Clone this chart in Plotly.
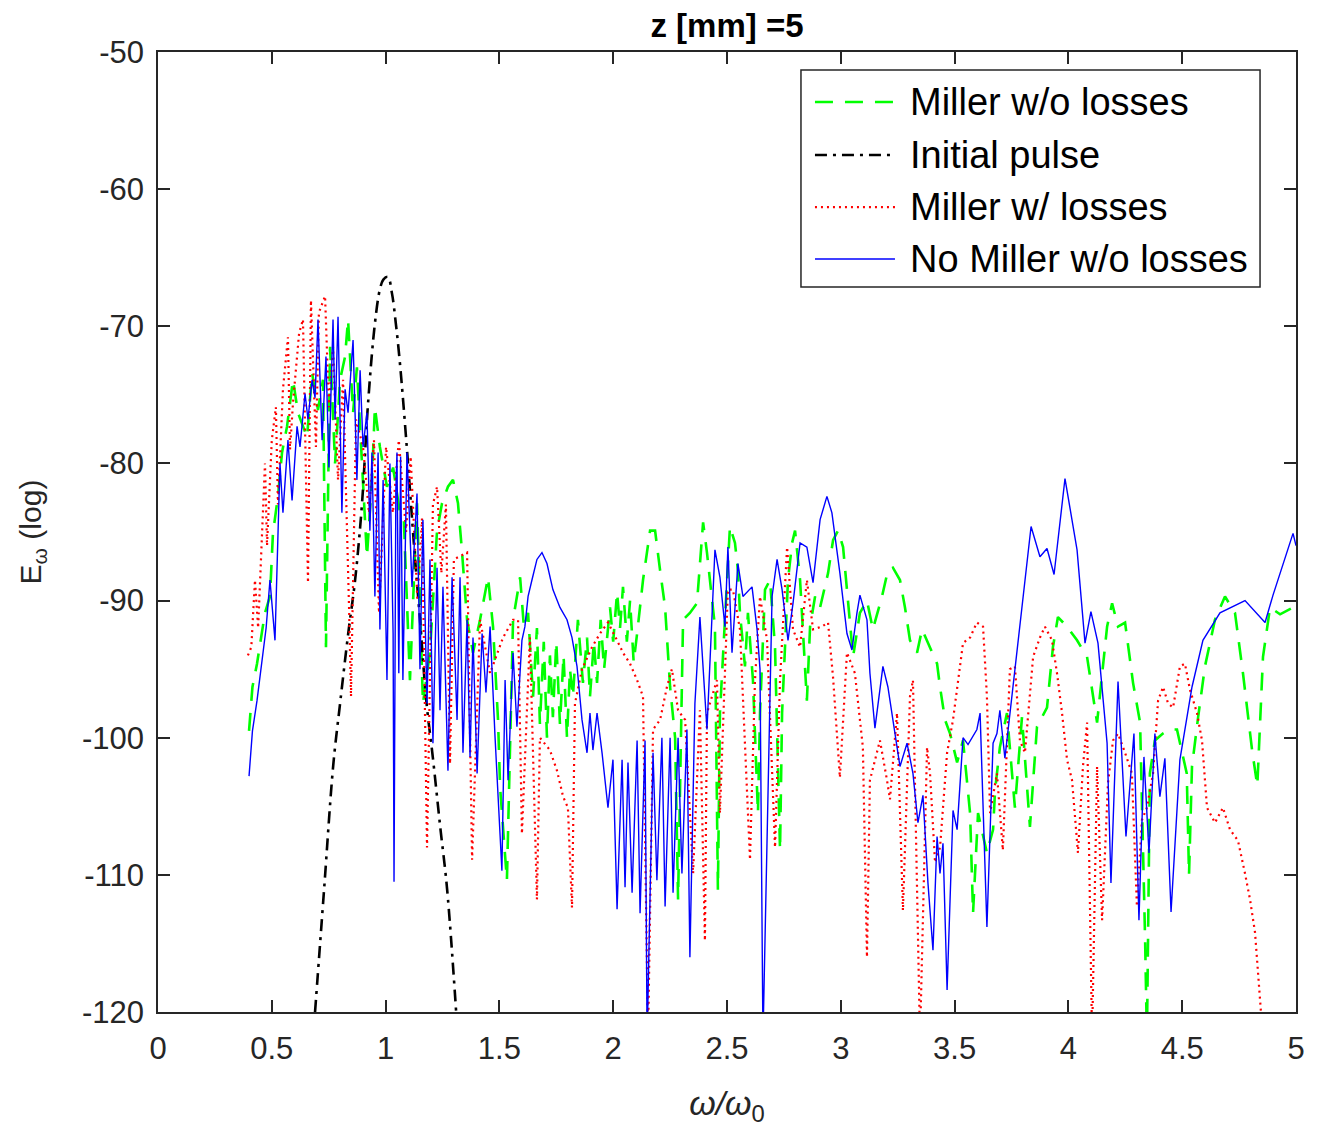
import plotly.graph_objects as go

# ---- Data ----
green_x = [0.400, 0.415, 0.435, 0.470, 0.492, 0.505, 0.527, 0.545, 0.567, 0.593, 0.615, 0.655, 0.677, 0.703,
           0.725, 0.738, 0.756, 0.778, 0.800, 0.822, 0.835, 0.857, 0.874, 0.896, 0.918, 0.940, 0.953, 0.975,
           1.006, 1.033, 1.063, 1.080, 1.107, 1.138, 1.164, 1.195, 1.226, 1.248, 1.274, 1.296, 1.318, 1.336,
           1.358, 1.384, 1.415, 1.450, 1.472, 1.494, 1.503, 1.533, 1.547, 1.560, 1.591, 1.608, 1.626, 1.648,
           1.665, 1.678, 1.695, 1.709, 1.722, 1.735, 1.750, 1.766, 1.782, 1.797, 1.810, 1.823, 1.845, 1.867,
           1.885, 1.898, 1.915, 1.929, 1.945, 1.960, 1.986, 2.000, 2.017, 2.030, 2.043, 2.060, 2.074, 2.090,
           2.105, 2.131, 2.162, 2.184, 2.206, 2.228, 2.250, 2.272, 2.285, 2.307, 2.337, 2.368, 2.395, 2.412,
           2.447, 2.460, 2.469, 2.513, 2.535, 2.548, 2.557, 2.579, 2.592, 2.614, 2.636, 2.645, 2.667, 2.689,
           2.711, 2.733, 2.742, 2.768, 2.786, 2.799, 2.821, 2.851, 2.865, 2.887, 2.909, 2.944, 2.966, 2.988,
           3.010, 3.027, 3.054, 3.084, 3.115, 3.141, 3.181, 3.207, 3.229, 3.260, 3.282, 3.304, 3.335, 3.357,
           3.392, 3.423, 3.436, 3.458, 3.480, 3.511, 3.537, 3.568, 3.581, 3.603, 3.642, 3.669, 3.678, 3.699,
           3.730, 3.765, 3.796, 3.831, 3.862, 3.906, 3.932, 3.954, 3.994, 4.038, 4.082, 4.126, 4.170, 4.192,
           4.218, 4.249, 4.284, 4.315, 4.337, 4.345, 4.358, 4.380, 4.415, 4.446, 4.477, 4.520, 4.530, 4.543,
           4.570, 4.600, 4.644, 4.688, 4.732, 4.767, 4.807, 4.830, 4.855, 4.886, 4.930, 4.987, 5.000]
green_y = [-99.5, -96.3, -94.6, -90.9, -89.7, -85.1, -82.4, -79.2, -77.3, -73.9, -76.3, -78.1, -73.4, -76.1,
           -73.9, -93.4, -71.5, -80.0, -73.9, -72.2, -69.5, -76.3, -73.0, -80.0, -86.8, -81.2, -75.9, -78.8,
           -81.7, -80.3, -83.6, -84.1, -95.8, -82.9, -97.5, -93.8, -84.9, -82.9, -81.7, -81.2, -82.9, -86.5,
           -91.4, -93.8, -91.4, -88.3, -91.9, -98.7, -103.6, -110.4, -101.1, -91.4, -88.3, -92.0, -90.9, -97.0,
           -92.0, -99.0, -93.0, -100.0, -94.0, -98.5, -93.0, -99.0, -94.0, -100.0, -95.0, -97.0, -91.4, -96.0,
           -92.7, -97.0, -93.0, -96.0, -91.4, -95.0, -90.5, -93.0, -89.4, -92.0, -89.0, -93.0, -90.0, -94.5,
           -92.4, -88.5, -84.9, -84.9, -87.8, -90.5, -96.3, -100.0, -111.8, -91.4, -90.9, -90.2, -84.3, -86.5,
           -91.9, -111.1, -98.2, -84.6, -85.8, -87.8, -90.9, -94.8, -90.9, -95.8, -105.5, -98.2, -89.2, -88.5,
           -93.4, -108.2, -98.2, -88.5, -85.8, -84.9, -88.5, -97.3, -91.9, -89.7, -90.5, -88.0, -85.6, -84.9,
           -86.1, -89.0, -94.1, -90.9, -90.0, -92.1, -89.7, -87.8, -87.6, -88.5, -90.5, -92.9, -93.8, -92.1,
           -93.4, -94.6, -96.3, -98.7, -99.7, -101.8, -100.2, -105.5, -112.8, -105.5, -108.4, -106.7, -103.8, -100.7,
           -98.2, -105.1, -98.5, -106.5, -99.2, -97.8, -93.4, -91.2, -91.9, -92.9, -94.1, -98.9, -91.9, -90.2,
           -91.9, -91.6, -96.0, -98.9, -114.7, -122.0, -102.6, -100.2, -99.7, -99.4, -99.4, -102.6, -110.0, -102.1,
           -98.5, -94.8, -91.4, -89.7, -90.9, -95.3, -100.9, -103.5, -94.1, -90.5, -91.0, -90.5, -90.2]

pulse_x = [0.690, 0.730, 0.770, 0.800, 0.835, 0.866, 0.896, 0.923, 0.953, 0.975, 0.990, 1.010, 1.028,
           1.045, 1.063, 1.094, 1.125, 1.151, 1.180, 1.208, 1.240, 1.270, 1.310]
pulse_y = [-120.0, -111.0, -102.0, -97.5, -92.5, -88.5, -83.0, -75.6, -69.8, -67.3, -66.6, -66.4, -67.6,
           -69.8, -72.7, -79.0, -86.0, -91.4, -97.5, -101.5, -106.5, -111.0, -120.0]

red_x = [0.395, 0.410, 0.426, 0.440, 0.470, 0.479, 0.500, 0.518, 0.527, 0.549, 0.571, 0.580, 0.593, 0.620,
         0.637, 0.659, 0.672, 0.694, 0.707, 0.734, 0.751, 0.769, 0.791, 0.813, 0.840, 0.848, 0.870, 0.901,
         0.927, 0.949, 0.971, 1.002, 1.032, 1.058, 1.090, 1.110, 1.140, 1.160, 1.182, 1.208, 1.226, 1.245,
         1.265, 1.283, 1.300, 1.358, 1.380, 1.415, 1.459, 1.516, 1.560, 1.582, 1.599, 1.634, 1.665, 1.678,
         1.722, 1.753, 1.780, 1.801, 1.819, 1.832, 1.863, 1.907, 1.942, 1.977, 2.017, 2.043, 2.074, 2.105,
         2.131, 2.153, 2.175, 2.206, 2.236, 2.258, 2.285, 2.316, 2.351, 2.381, 2.403, 2.412, 2.456, 2.469,
         2.504, 2.526, 2.557, 2.601, 2.623, 2.645, 2.676, 2.711, 2.733, 2.764, 2.790, 2.821, 2.851, 2.878,
         2.917, 2.944, 2.966, 2.996, 3.027, 3.062, 3.097, 3.115, 3.128, 3.172, 3.203, 3.216, 3.247, 3.273,
         3.304, 3.317, 3.348, 3.379, 3.392, 3.414, 3.436, 3.467, 3.493, 3.537, 3.568, 3.598, 3.625, 3.642,
         3.656, 3.686, 3.712, 3.743, 3.765, 3.787, 3.809, 3.831, 3.845, 3.875, 3.897, 3.928, 3.950, 3.972,
         3.994, 4.016, 4.042, 4.064, 4.082, 4.104, 4.126, 4.148, 4.174, 4.196, 4.218, 4.249, 4.279, 4.301,
         4.323, 4.345, 4.372, 4.394, 4.416, 4.438, 4.460, 4.490, 4.512, 4.534, 4.565, 4.587, 4.609, 4.644,
         4.679, 4.710, 4.745, 4.776, 4.798, 4.820, 4.840, 4.855]
red_y = [-94.0, -93.4, -88.5, -92.0, -80.0, -86.0, -78.3, -75.9, -83.0, -74.6, -70.8, -79.0, -75.6, -70.5,
         -69.5, -88.7, -68.1, -78.8, -69.0, -67.8, -75.9, -71.5, -81.2, -73.9, -90.9, -97.0, -76.8, -78.8,
         -83.6, -78.3, -90.9, -78.8, -83.6, -78.3, -85.0, -79.5, -90.0, -84.0, -108.0, -83.0, -81.7, -88.0,
         -83.0, -101.9, -87.0, -86.5, -108.9, -91.4, -95.3, -92.7, -91.4, -91.4, -107.0, -92.7, -111.8, -100.0,
         -100.9, -102.4, -104.3, -105.1, -112.4, -97.5, -95.0, -93.4, -92.4, -91.6, -92.9, -93.8, -94.6, -95.8,
         -97.0, -122.0, -99.4, -98.7, -96.3, -95.0, -98.0, -98.7, -109.9, -98.0, -114.8, -98.2, -95.8, -105.5,
         -89.2, -89.2, -92.1, -108.9, -95.8, -89.7, -92.9, -108.0, -95.8, -86.1, -92.1, -93.4, -88.5, -92.1,
         -91.9, -91.6, -95.6, -102.9, -93.8, -95.3, -100.7, -116.0, -103.1, -100.2, -103.1, -104.5, -98.2, -112.6,
         -97.0, -95.8, -122.0, -100.7, -102.6, -109.1, -108.0, -101.1, -98.7, -93.1, -92.7, -91.6, -91.9, -97.0,
         -105.5, -102.6, -108.2, -95.0, -94.8, -100.2, -101.1, -96.7, -94.1, -92.7, -91.9, -92.9, -95.3, -98.2,
         -101.6, -103.1, -108.4, -102.1, -98.9, -122.0, -102.1, -113.3, -103.3, -100.2, -99.7, -101.1, -102.6, -112.3,
         -106.0, -105.1, -102.6, -97.3, -96.3, -97.5, -97.8, -94.8, -94.6, -96.5, -98.2, -100.2, -105.1, -106.2,
         -105.1, -106.7, -107.5, -109.9, -111.8, -114.2, -119.0, -122.0]

blue_x = [0.400, 0.415, 0.435, 0.457, 0.475, 0.492, 0.514, 0.536, 0.549, 0.571, 0.589, 0.611, 0.624, 0.646,
          0.659, 0.677, 0.690, 0.703, 0.721, 0.738, 0.751, 0.769, 0.778, 0.791, 0.808, 0.822, 0.835, 0.857,
          0.874, 0.888, 0.901, 0.918, 0.931, 0.940, 0.953, 0.967, 0.975, 0.989, 1.006, 1.019, 1.033, 1.037,
          1.045, 1.050, 1.058, 1.066, 1.076, 1.094, 1.116, 1.138, 1.151, 1.164, 1.182, 1.195, 1.208, 1.226,
          1.239, 1.252, 1.274, 1.292, 1.314, 1.327, 1.340, 1.358, 1.371, 1.384, 1.402, 1.424, 1.441, 1.459,
          1.481, 1.511, 1.525, 1.538, 1.560, 1.577, 1.599, 1.612, 1.626, 1.643, 1.665, 1.687, 1.709, 1.735,
          1.766, 1.797, 1.819, 1.841, 1.863, 1.885, 1.898, 1.911, 1.929, 1.951, 1.977, 1.999, 2.017, 2.039,
          2.052, 2.065, 2.083, 2.105, 2.118, 2.140, 2.149, 2.175, 2.192, 2.214, 2.228, 2.250, 2.263, 2.285,
          2.302, 2.324, 2.337, 2.359, 2.381, 2.412, 2.434, 2.447, 2.469, 2.491, 2.504, 2.522, 2.548, 2.570,
          2.610, 2.632, 2.645, 2.658, 2.698, 2.720, 2.742, 2.768, 2.790, 2.821, 2.851, 2.878, 2.909, 2.939,
          2.961, 2.996, 3.027, 3.049, 3.071, 3.084, 3.115, 3.128, 3.150, 3.185, 3.207, 3.229, 3.260, 3.291,
          3.317, 3.339, 3.361, 3.383, 3.405, 3.423, 3.436, 3.449, 3.467, 3.493, 3.511, 3.537, 3.559, 3.598,
          3.612, 3.642, 3.669, 3.686, 3.699, 3.721, 3.757, 3.800, 3.836, 3.875, 3.906, 3.937, 3.985, 4.038,
          4.073, 4.099, 4.130, 4.170, 4.187, 4.218, 4.253, 4.288, 4.310, 4.332, 4.354, 4.380, 4.402, 4.424,
          4.451, 4.490, 4.543, 4.591, 4.666, 4.776, 4.864, 4.899, 4.987, 5.000]
blue_y = [-102.8, -99.5, -97.3, -94.6, -92.0, -88.5, -92.9, -80.0, -83.6, -78.3, -82.7, -77.3, -78.8, -74.9,
          -76.8, -73.9, -75.2, -69.5, -78.3, -72.2, -80.3, -69.5, -76.8, -69.3, -83.6, -74.6, -76.3, -71.0,
          -81.2, -73.2, -78.8, -76.3, -84.9, -79.2, -89.7, -79.2, -92.1, -81.2, -95.8, -80.0, -92.4, -110.5,
          -82.0, -79.2, -95.3, -79.5, -95.8, -79.2, -89.0, -82.2, -95.0, -84.1, -97.5, -87.0, -100.4, -87.6,
          -98.0, -89.0, -102.4, -88.3, -98.7, -88.3, -101.1, -91.4, -101.4, -92.7, -102.6, -92.4, -96.7, -91.9,
          -100.0, -109.7, -95.8, -103.1, -93.8, -99.2, -92.9, -91.9, -89.7, -88.5, -87.0, -86.5, -87.3, -89.2,
          -90.5, -91.4, -92.7, -94.8, -98.7, -101.1, -98.2, -100.9, -98.2, -101.1, -105.1, -101.6, -112.5, -101.6,
          -110.9, -101.8, -111.3, -100.2, -112.8, -100.2, -122.0, -101.1, -110.4, -100.0, -112.3, -100.0, -111.3, -100.0,
          -109.9, -99.4, -116.0, -97.5, -91.2, -99.4, -90.9, -86.3, -88.3, -91.9, -86.1, -93.8, -87.3, -89.7,
          -89.0, -92.1, -95.0, -122.0, -89.7, -87.0, -89.2, -92.9, -90.2, -85.8, -86.1, -88.7, -84.1, -82.4,
          -83.6, -88.0, -92.4, -93.6, -90.9, -89.6, -91.4, -95.3, -99.3, -94.8, -96.3, -98.7, -102.1, -100.4,
          -102.6, -106.2, -104.2, -110.6, -115.5, -107.2, -109.9, -107.7, -118.4, -105.3, -106.7, -100.0, -100.5, -99.4,
          -98.2, -113.8, -100.4, -99.7, -98.0, -101.5, -96.3, -89.7, -84.6, -86.8, -86.2, -88.1, -81.1, -86.3,
          -93.1, -90.8, -93.1, -100.4, -110.6, -95.9, -107.2, -99.7, -113.3, -101.4, -108.4, -99.7, -104.3, -101.5,
          -112.7, -101.6, -96.3, -92.9, -90.9, -90.0, -91.6, -89.6, -85.1, -86.0]

x_ticks = [0, 0.5, 1, 1.5, 2, 2.5, 3, 3.5, 4, 4.5, 5]
x_tick_text = ["0", "0.5", "1", "1.5", "2", "2.5", "3", "3.5", "4", "4.5", "5"]
y_ticks = [-120, -110, -100, -90, -80, -70, -60, -50]
y_tick_text = ["-120", "-110", "-100", "-90", "-80", "-70", "-60", "-50"]

FONT = "Liberation Sans, Arial, Helvetica, sans-serif"
AX = "#262626"

series = [
    ("Miller w/o losses", green_x, green_y, dict(color="#00ff00", width=2.6, dash="18px,12px")),
    ("Initial pulse", pulse_x, pulse_y, dict(color="black", width=2.6, dash="12px,6px,3px,6px", shape="spline")),
    ("Miller w/ losses", red_x, red_y, dict(color="#ff0000", width=2.2, dash="2px,4px")),
    ("No Miller w/o losses", blue_x, blue_y, dict(color="#0000ff", width=1.4)),
]

fig = go.Figure()
for name, xs, ys, ln in series:
    fig.add_trace(go.Scatter(x=xs, y=ys, mode="lines", name=name, line=ln, showlegend=False))

# Legend drawn as a MATLAB-style box (long line samples)
leg_x0, leg_x1, leg_y0, leg_y1 = 0.5650, 0.9684, 0.7552, 0.98125
sample_x0, sample_x1, text_x = 0.5773, 0.6476, 0.6591
row_y = [0.9479, 0.8927, 0.8385, 0.7844]
shapes = [dict(type="rect", xref="paper", yref="paper", x0=leg_x0, x1=leg_x1, y0=leg_y0, y1=leg_y1,
               line=dict(color=AX, width=1.5), fillcolor="white", layer="above")]
annotations = []
for (name, _, _, ln), ry in zip(series, row_y):
    shapes.append(dict(type="line", xref="paper", yref="paper", x0=sample_x0, x1=sample_x1, y0=ry, y1=ry,
                       line=dict(color=ln["color"], width=ln["width"] if ln["width"] > 2 else 1.6,
                                 dash=ln.get("dash", "solid")), layer="above"))
    annotations.append(dict(xref="paper", yref="paper", x=text_x, y=ry, text=name, showarrow=False,
                            xanchor="left", yanchor="middle",
                            font=dict(size=38, color="black", family=FONT)))

fig.update_layout(
    width=1314, height=1119,
    margin=dict(l=150, r=26, t=44, b=115),
    paper_bgcolor="white", plot_bgcolor="white",
    font=dict(family=FONT, color=AX, size=31),
    title=dict(text="<b>z [mm] =5</b>", x=(150 + 1288) / 2 / 1314, xanchor="center",
               y=1 - 17 / 1119, yanchor="middle", font=dict(size=33, color="black", family=FONT)),
    showlegend=False,
    shapes=shapes,
    annotations=annotations,
)
fig.update_xaxes(range=[0, 5], tickvals=x_ticks, ticktext=x_tick_text,
                 showgrid=False, zeroline=False, showline=True, linecolor=AX, linewidth=1.5,
                 mirror="ticks", ticks="inside", ticklen=12, tickwidth=1.5, tickcolor=AX,
                 tickfont=dict(size=31, color=AX), ticklabelstandoff=8,
                 title=dict(text="<i>ω/ω</i><sub>0</sub>", font=dict(size=34, color=AX), standoff=26))
fig.update_yaxes(range=[-120, -50], tickvals=y_ticks, ticktext=y_tick_text,
                 showgrid=False, zeroline=False, showline=True, linecolor=AX, linewidth=1.5,
                 mirror="ticks", ticks="inside", ticklen=12, tickwidth=1.5, tickcolor=AX,
                 tickfont=dict(size=31, color=AX), ticklabelstandoff=6,
                 title=dict(text="E<sub>ω</sub> (log)", font=dict(size=30, color=AX), standoff=32))

fig.write_html("out.html")
